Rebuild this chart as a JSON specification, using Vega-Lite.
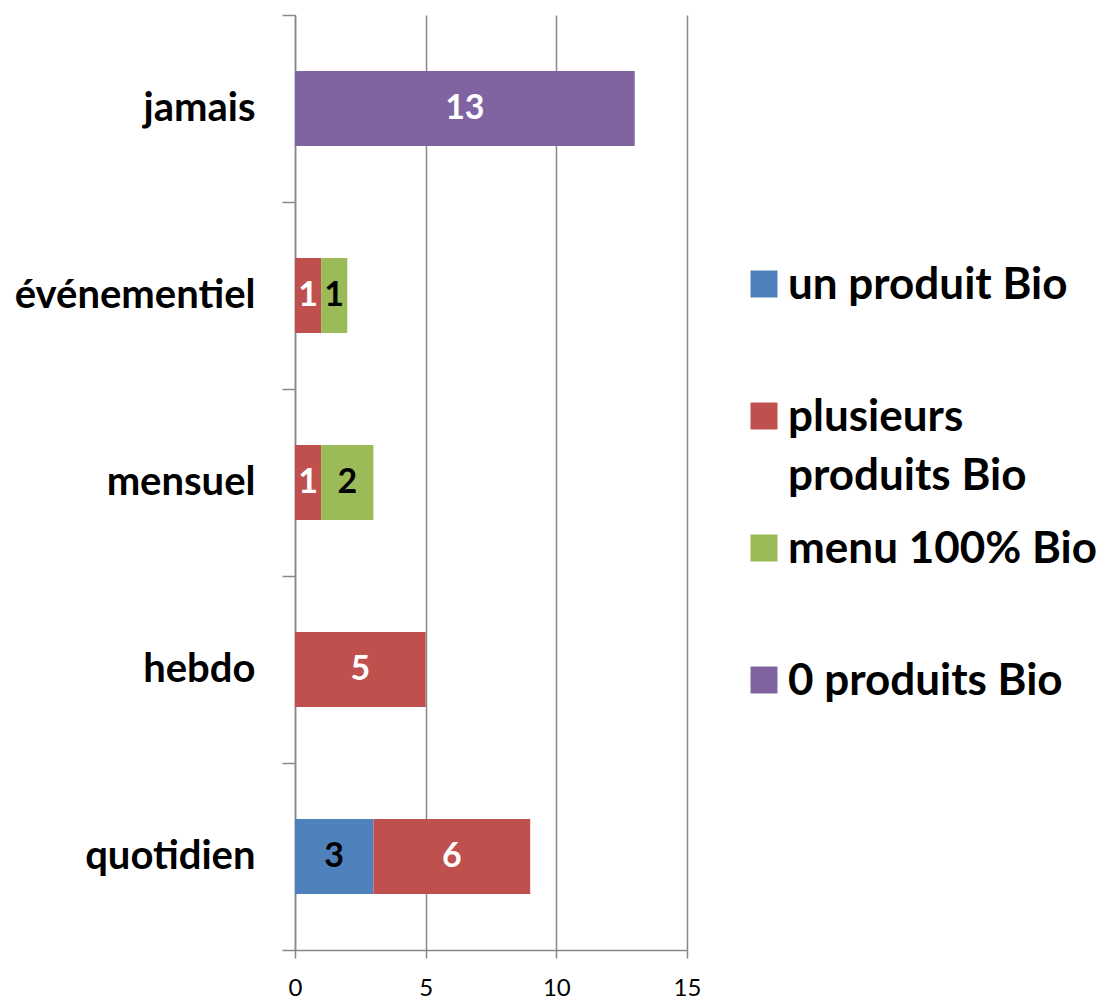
{
  "$schema": "https://vega.github.io/schema/vega-lite/v6.json",
  "width": 392,
  "height": 935,
  "autosize": {"type": "none"},
  "padding": {"left": 295, "top": 15, "right": 412, "bottom": 52},
  "background": "white",
  "config": {"view": {"stroke": null}, "font": "Lato"},
  "data": {"values": [
    {"freq": "quotidien", "series": "un produit Bio", "value": 3},
    {"freq": "quotidien", "series": "plusieurs produits Bio", "value": 6},
    {"freq": "hebdo", "series": "plusieurs produits Bio", "value": 5},
    {"freq": "mensuel", "series": "plusieurs produits Bio", "value": 1},
    {"freq": "mensuel", "series": "menu 100% Bio", "value": 2},
    {"freq": "événementiel", "series": "plusieurs produits Bio", "value": 1},
    {"freq": "événementiel", "series": "menu 100% Bio", "value": 1},
    {"freq": "jamais", "series": "0 produits Bio", "value": 13}
  ]},
  "transform": [
    {"stack": "value", "groupby": ["freq"], "sort": [{"field": "series", "order": "descending"}], "as": ["v0", "v1"]}
  ],
  "encoding": {
    "y": {
      "field": "freq", "type": "nominal",
      "sort": ["jamais", "événementiel", "mensuel", "hebdo", "quotidien"],
      "scale": {"paddingInner": 0, "paddingOuter": 0},
      "axis": {
        "title": null, "tickBand": "extent", "tickSize": 13, "tickColor": "#888", "tickWidth": 1.5,
        "domainColor": "#888", "domainWidth": 1.5, "labelLimit": 0,
        "labelFontSize": 40, "labelFontWeight": "bold", "labelColor": "#000", "labelPadding": 27, "labelFont": "Lato"
      }
    }
  },
  "layer": [
    {
      "mark": {"type": "bar", "height": {"band": 0.4}},
      "encoding": {
        "x": {
          "field": "v0", "type": "quantitative", "scale": {"domain": [0, 15], "nice": false},
          "axis": {
            "title": null, "values": [0, 5, 10, 15], "grid": true, "gridColor": "#888", "gridWidth": 1.5,
            "domainColor": "#888", "domainWidth": 1.5, "tickColor": "#888", "tickSize": 8, "tickWidth": 1.5,
            "labelFontSize": 24, "labelFont": "Lato", "labelColor": "#000", "labelPadding": 18, "labelFlush": false
          }
        },
        "x2": {"field": "v1"},
        "color": {
          "field": "series", "type": "nominal",
          "scale": {
            "domain": ["un produit Bio", "plusieurs produits Bio", "menu 100% Bio", "0 produits Bio"],
            "range": ["#4F81BD", "#C0504D", "#9BBB59", "#8064A2"]
          },
          "legend": {
            "title": null, "orient": "none", "legendX": 447, "legendY": 247, "direction": "vertical",
            "symbolType": "square", "symbolSize": 729, "symbolStrokeWidth": 0, "symbolOpacity": 1,
            "labelFontSize": 44, "labelFontWeight": "bold", "labelFont": "Lato", "labelColor": "#000",
            "labelOffset": 2, "rowPadding": 27, "labelLimit": 0, "padding": 0, "labelBaseline": "top",
            "labelExpr": "datum.label == 'plusieurs produits Bio' ? ['plusieurs', 'produits Bio'] : [datum.label, '']",
            "encode": {"labels": {"update": {"lineHeight": {"value": 59}, "dy": {"value": -20}}}}
          }
        }
      }
    },
    {
      "transform": [{"fold": ["v0", "v1"], "as": ["k", "pos"]}],
      "mark": {"type": "text", "fontSize": 34, "fontWeight": "bold", "baseline": "middle", "font": "Lato"},
      "encoding": {
        "x": {"aggregate": "mean", "field": "pos", "type": "quantitative", "stack": null, "axis": {"title": null}},
        "text": {"field": "value", "type": "quantitative"},
        "detail": {"field": "series"},
        "color": {
          "condition": {"test": "datum.series == 'un produit Bio' || datum.series == 'menu 100% Bio'", "value": "black"},
          "value": "white"
        }
      }
    }
  ]
}
